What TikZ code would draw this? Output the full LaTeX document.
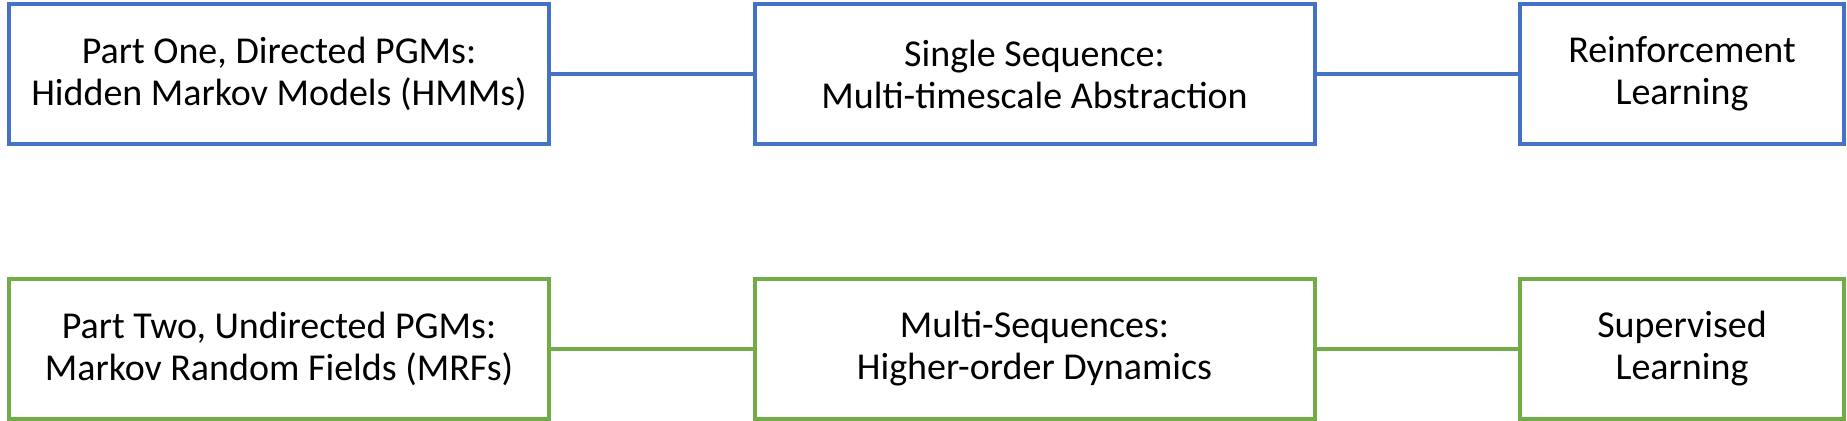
\documentclass[tikz,border=0pt]{standalone}
\usepackage{fontspec}
\setmainfont{Carlito}
\usepackage{xcolor}
\usetikzlibrary{positioning}
\definecolor{partblue}{HTML}{4472C4}
\definecolor{partgreen}{HTML}{70AD47}
\tikzset{
  box/.style={draw, line width=2pt, fill=white, align=center, minimum height=70pt,
    inner sep=0pt, font=\fontsize{19}{21}\selectfont},
  bluebox/.style={box, draw=partblue},
  greenbox/.style={box, draw=partgreen},
  link/.style={line width=2pt}
}

\begin{document}
\begin{tikzpicture}[x=0.5pt,y=-0.5pt]
    \useasboundingbox (0,0) rectangle (1847,420);

    % Part one - directed PGMs
    \node[bluebox, minimum width=270pt] (hmm) at (279,74) {Part One, Directed PGMs:\\Hidden Markov Models (HMMs)};
    \node[bluebox, minimum width=280pt] (single) at (1034.5,74) {Single Sequence:\\Multi-timescale Abstraction};
    \node[bluebox, minimum width=162pt] (rl) at (1682,74) {Reinforcement\\Learning};

    % Part two - undirected PGMs
    \node[greenbox, minimum width=270pt] (mrf) at (279,348.5) {Part Two, Undirected PGMs:\\Markov Random Fields (MRFs)};
    \node[greenbox, minimum width=280pt] (multi) at (1034.5,348.5) {Multi-Sequences:\\Higher-order Dynamics};
    \node[greenbox, minimum width=162pt] (sl) at (1682,348.5) {Supervised\\Learning};

    % Links in each row
    \draw[link, partblue] (hmm) -- (single);
    \draw[link, partblue] (single) -- (rl);
    \draw[link, partgreen] (mrf) -- (multi);
    \draw[link, partgreen] (multi) -- (sl);
\end{tikzpicture}
\end{document}
